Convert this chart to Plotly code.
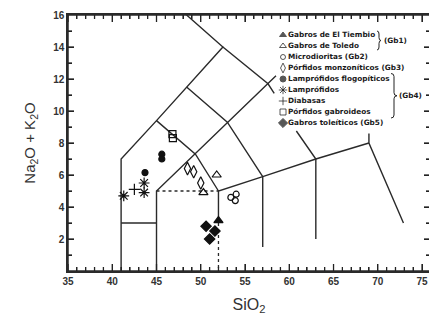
import plotly.graph_objects as go

# ---------------- data ----------------
series_names = ["Gabros de El Tiembio", "Gabros de Toledo", "Microdioritas (Gb2)",
                "Pórfidos monzoníticos (Gb3)", "Lamprófidos flogopíticos", "Lamprófidos",
                "Diabasas", "Pórfidos gabroideos", "Gabros toleíticos (Gb5)"]
series_symbols = ["triangle-up", "triangle-up-open", "circle-open", "diamond-tall-open",
                  "circle", "asterisk-open", "cross-thin-open", "square-open", "diamond"]

tiembio_sio2 = [52.0]
tiembio_alk = [3.15]
toledo_sio2 = [51.8, 50.3]
toledo_alk = [6.0, 4.9]
microdiorita_sio2 = [53.4, 54.0, 53.9]
microdiorita_alk = [4.6, 4.8, 4.4]
monzonitico_sio2 = [48.5, 49.2, 50.0]
monzonitico_alk = [6.4, 6.2, 5.5]
flogopitico_sio2 = [45.6, 45.6, 43.7]
flogopitico_alk = [7.3, 7.0, 6.15]
lamprofido_sio2 = [41.3, 43.6, 43.6]
lamprofido_alk = [4.7, 5.5, 4.9]
diabasa_sio2 = [42.5]
diabasa_alk = [5.1]
gabroideo_sio2 = [46.8, 46.85]
gabroideo_alk = [8.55, 8.3]
toleitico_sio2 = [50.6, 51.6, 51.0]
toleitico_alk = [2.8, 2.5, 2.0]

series_x = [tiembio_sio2, toledo_sio2, microdiorita_sio2, monzonitico_sio2, flogopitico_sio2,
            lamprofido_sio2, diabasa_sio2, gabroideo_sio2, toleitico_sio2]
series_y = [tiembio_alk, toledo_alk, microdiorita_alk, monzonitico_alk, flogopitico_alk,
            lamprofido_alk, diabasa_alk, gabroideo_alk, toleitico_alk]
series_sizes = [8, 8, 6, 9, 6, 9, 8, 7, 8]

# TAS field boundaries (SiO2, Na2O+K2O), solid
tas_solid = [
    [(41, 0), (41, 7), (45, 9.4), (48.4, 11.5), (52.5, 14), (48.4, 16)],
    [(41, 3), (45, 3)],
    [(45, 0), (45, 5), (58.5, 12.2)],
    [(45, 9.4), (49.4, 7.3), (52, 5)],
    [(48.4, 11.5), (53, 9.3), (57, 5.9)],
    [(52.5, 14), (57.6, 11.7), (58.3, 11.1)],
    [(52, 3), (52, 5), (57, 5.9), (63, 7), (69, 8)],
    [(57, 5.9), (57, 1.5)],
    [(60.8, 8.75), (63, 7), (63, 2)],
    [(69, 8.6), (69, 8), (72.9, 3)],
]
# dotted boundaries
tas_dotted = [
    [(45, 5), (52, 5)],
    [(52, 3), (52, 0)],
]

X_RANGE = [35, 75.9]
Y_RANGE = [0, 16]
x_major_ticks = list(range(35, 76, 5))
x_minor_ticks = [v for v in range(36, 76) if v % 5]
y_major_ticks = list(range(2, 16, 2))
y_minor_ticks = list(range(1, 16, 2))

line_col = "#2a2a2a"
ink = "#111111"
FONT = "Liberation Sans, Arial, sans-serif"
LEGFONT = "DejaVu Sans, sans-serif"

# ---- layout geometry (page px; the page body adds an 8px offset) ----
W, H = 429, 307
ML, MR, MT, MB = 60, 7, 7, 44
PLOT_L, PLOT_R = 8 + ML, 8 + W - MR          # 68 .. 430
PLOT_T, PLOT_B = 8 + MT, 8 + H - MB          # 15 .. 271
PW, PH = PLOT_R - PLOT_L, PLOT_B - PLOT_T
XSPAN, YSPAN = X_RANGE[1] - X_RANGE[0], Y_RANGE[1] - Y_RANGE[0]
ROW0, ROWH = 35, 11                          # legend row 0 centre and row pitch (px)


def px2x(px):
    return X_RANGE[0] + (px - PLOT_L) / PW * XSPAN


def py2y(py):
    return Y_RANGE[0] + (PLOT_B - py) / PH * YSPAN


def join(polys):
    xs, ys = [], []
    for p in polys:
        xs += [pt[0] for pt in p] + [None]
        ys += [pt[1] for pt in p] + [None]
    return xs, ys


fig = go.Figure()
sx, sy = join(tas_solid)
fig.add_trace(go.Scatter(x=sx, y=sy, mode="lines", line=dict(color=line_col, width=1.4),
                         showlegend=False, hoverinfo="skip"))
dx, dy = join(tas_dotted)
fig.add_trace(go.Scatter(x=dx, y=dy, mode="lines", line=dict(color=line_col, width=1.3, dash="dot"),
                         showlegend=False, hoverinfo="skip"))

# ---- frame and inward tick marks on all four sides, drawn on the axis scales ----
frame = [[(X_RANGE[0], Y_RANGE[0]), (X_RANGE[1], Y_RANGE[0]), (X_RANGE[1], Y_RANGE[1]),
          (X_RANGE[0], Y_RANGE[1]), (X_RANGE[0], Y_RANGE[0])]]
fx, fy = join(frame)
fig.add_trace(go.Scatter(x=fx, y=fy, mode="lines", line=dict(color=line_col, width=1.5),
                         cliponaxis=False, showlegend=False, hoverinfo="skip"))

tick_segs = []


def x_ticks(vals, length_px):
    ly = length_px / PH * YSPAN
    for v in vals:
        tick_segs.append([(v, Y_RANGE[0]), (v, Y_RANGE[0] + ly)])
        tick_segs.append([(v, Y_RANGE[1]), (v, Y_RANGE[1] - ly)])


def y_ticks(vals, length_px):
    lx = length_px / PW * XSPAN
    for v in vals:
        tick_segs.append([(X_RANGE[0], v), (X_RANGE[0] + lx, v)])
        tick_segs.append([(X_RANGE[1], v), (X_RANGE[1] - lx, v)])


x_ticks(x_major_ticks, 7)
x_ticks(x_minor_ticks, 4)
y_ticks(y_major_ticks, 6)
y_ticks(y_minor_ticks, 4)
tx, ty = join(tick_segs)
fig.add_trace(go.Scatter(x=tx, y=ty, mode="lines", line=dict(color="#222", width=1.3),
                         cliponaxis=False, showlegend=False, hoverinfo="skip"))

for name, sym, xs, ys, sz in zip(series_names, series_symbols, series_x, series_y, series_sizes):
    fig.add_trace(go.Scatter(x=xs, y=ys, mode="markers", name=name, showlegend=False,
                             marker=dict(symbol=sym, size=sz, color=ink,
                                         line=dict(color=ink, width=1.2))))

# compact legend block (upper right, inside the frame)
legend_y = [py2y(ROW0 + ROWH * i) for i in range(len(series_names))]
fig.add_trace(go.Scatter(
    x=[px2x(283)] * len(series_names), y=legend_y,
    mode="markers", marker=dict(symbol=series_symbols, size=[6, 6, 5, 7, 6, 7, 6, 6, 7],
                                color=ink, line=dict(color=ink, width=1)),
    showlegend=False, hoverinfo="skip"))
fig.add_trace(go.Scatter(
    x=[px2x(288)] * len(series_names), y=legend_y,
    mode="text", text=series_names, textposition="middle right",
    textfont=dict(family=LEGFONT, size=7.3, color="#1a1a1a", weight="bold"),
    showlegend=False, hoverinfo="skip"))


def brace(px0, px1, pytop, pybot, d=3):
    xm = px2x((px0 + px1) / 2)
    x0, x1 = px2x(px0), px2x(px1)
    pym = (pytop + pybot) / 2
    yt, yb, ym = py2y(pytop), py2y(pybot), py2y(pym)
    yt_d, ym_u, ym_d, yb_u = py2y(pytop + d), py2y(pym - d), py2y(pym + d), py2y(pybot - d)
    return (f"M {x0},{yt} Q {xm},{yt} {xm},{yt_d} L {xm},{ym_u} "
            f"Q {xm},{ym} {x1},{ym} Q {xm},{ym} {xm},{ym_d} L {xm},{yb_u} "
            f"Q {xm},{yb} {x0},{yb}")


shapes = [
    dict(type="path", xref="x", yref="y", path=brace(377, 381, 31, 50),
         line=dict(color="#222", width=1)),
    dict(type="path", xref="x", yref="y", path=brace(391, 397, 73.5, 118),
         line=dict(color="#222", width=1)),
]

annotations = [
    dict(xref="x", yref="y", x=px2x(382), y=py2y(40.5), text="(Gb1)", showarrow=False,
         xanchor="left", font=dict(family=LEGFONT, size=7.3, color="#1a1a1a", weight="bold")),
    dict(xref="x", yref="y", x=px2x(397), y=py2y(95.75), text="(Gb4)", showarrow=False,
         xanchor="left", font=dict(family=LEGFONT, size=7.3, color="#1a1a1a", weight="bold")),
]

axis_common = dict(showline=True, linecolor=line_col, linewidth=1.5, mirror="ticks",
                   ticks="inside", tickcolor="#222", tickwidth=1.3, showgrid=False,
                   zeroline=False, automargin=False,
                   tickfont=dict(family=FONT, size=10, color="#333", weight="bold"))

fig.update_layout(
    template="none",
    width=W, height=H,
    showlegend=False,
    margin=dict(l=ML, r=MR, t=MT, b=MB),
    paper_bgcolor="white", plot_bgcolor="white",
    xaxis=dict(range=X_RANGE, dtick=5, ticklen=7,
               minor=dict(dtick=1, ticks="inside", ticklen=4, tickcolor="#222"),
               title=dict(text="SiO<sub>2</sub>", font=dict(family=FONT, size=16, color="#333"),
                          standoff=14),
               **axis_common),
    yaxis=dict(range=Y_RANGE, dtick=2, ticklen=6,
               labelalias={"0": " "},
               minor=dict(dtick=1, ticks="inside", ticklen=4, tickcolor="#222"),
               title=dict(text="Na<sub>2</sub>O + K<sub>2</sub>O",
                          font=dict(family=FONT, size=15, color="#333"), standoff=14),
               **axis_common),
    shapes=shapes,
    annotations=annotations,
)

fig.write_html("out.html")
